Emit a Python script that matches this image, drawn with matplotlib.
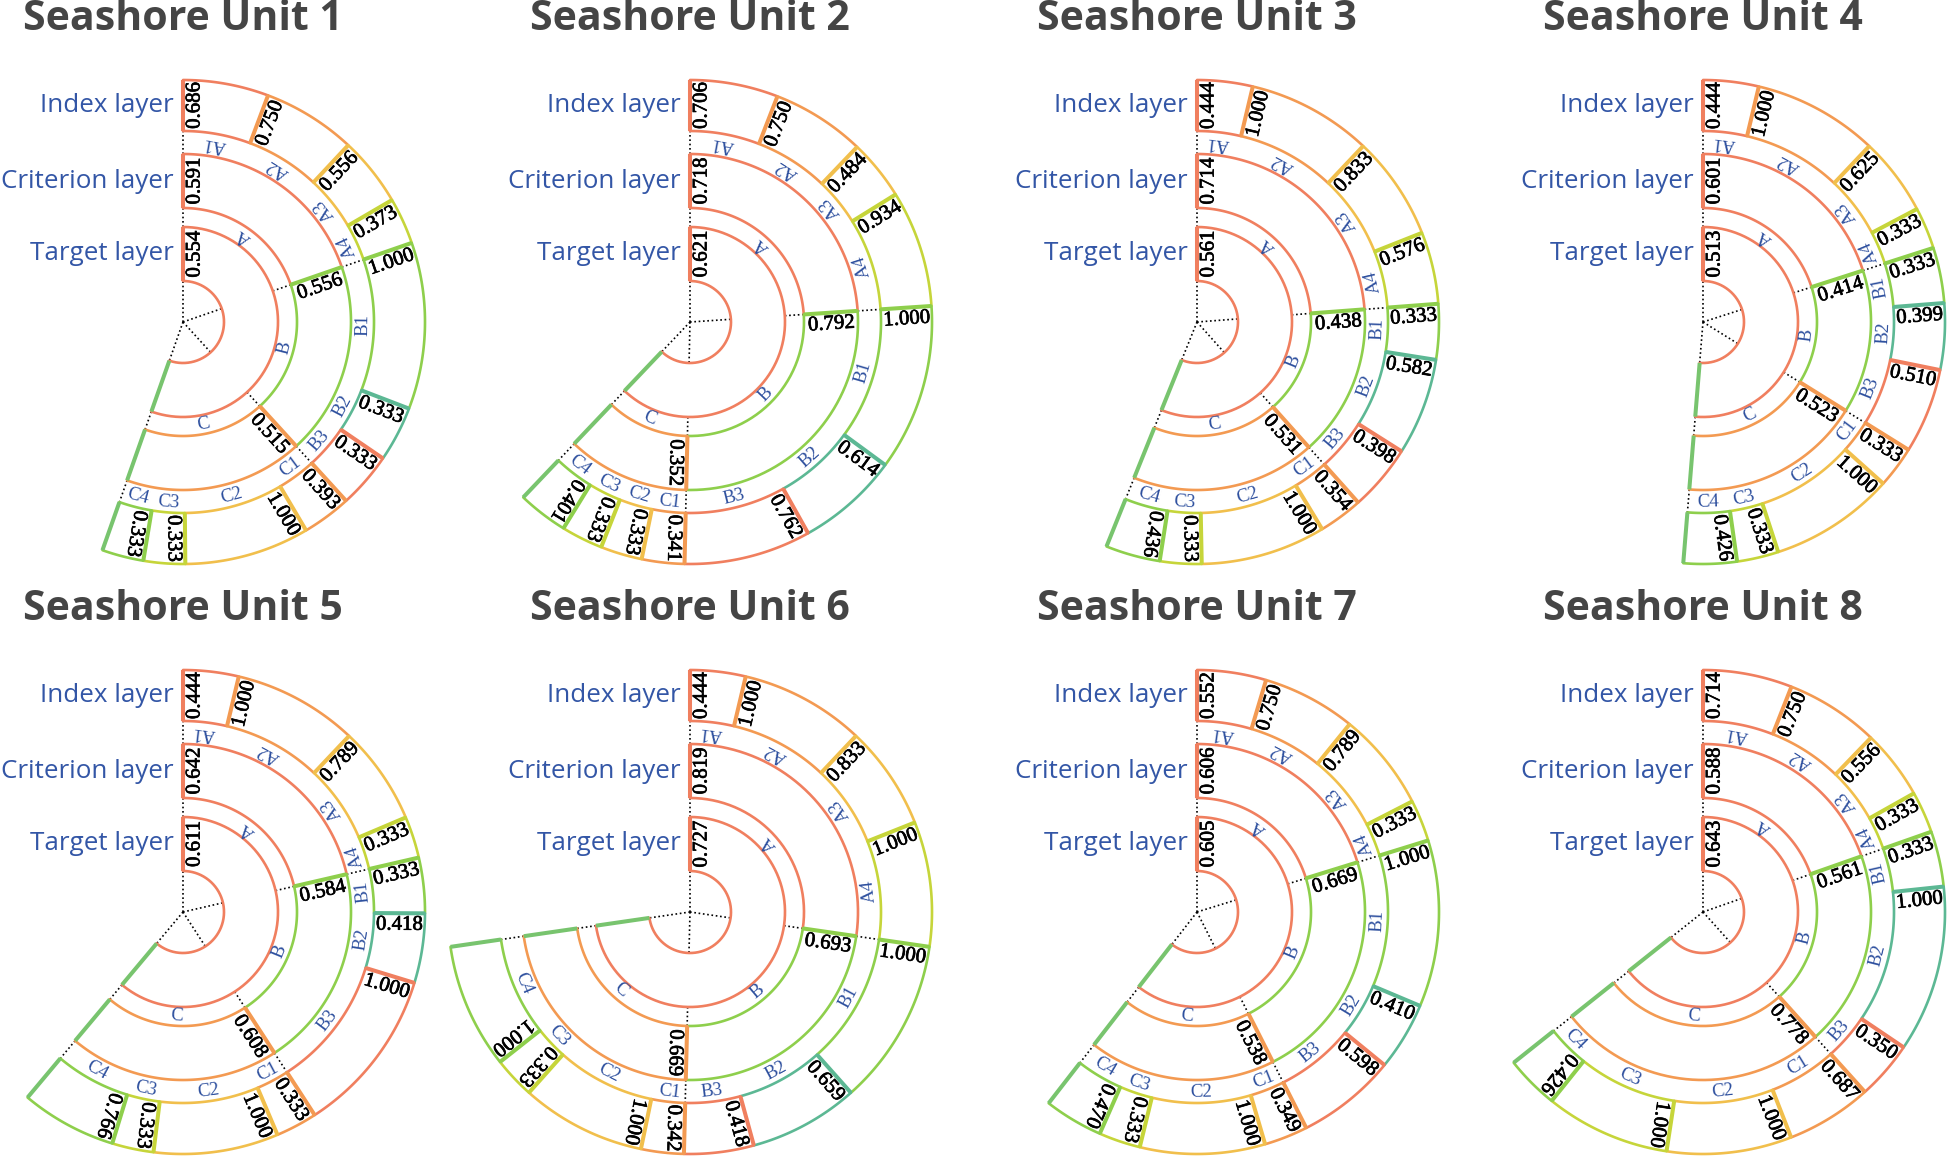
import numpy as np
import matplotlib.pyplot as plt
import matplotlib.patheffects as pe

units = ['Seashore Unit 1', 'Seashore Unit 2', 'Seashore Unit 3', 'Seashore Unit 4',
         'Seashore Unit 5', 'Seashore Unit 6', 'Seashore Unit 7', 'Seashore Unit 8']
layers = ['Target layer', 'Criterion layer', 'Index layer']

# target layer score of each unit (share of the full circle)
target = [0.554, 0.621, 0.561, 0.513, 0.611, 0.727, 0.605, 0.643]

crit_names = ['A', 'B', 'C']
criterion = [
    [0.591, 0.556, 0.515],
    [0.718, 0.792, 0.352],
    [0.714, 0.438, 0.531],
    [0.601, 0.414, 0.523],
    [0.642, 0.584, 0.608],
    [0.819, 0.693, 0.669],
    [0.606, 0.669, 0.538],
    [0.588, 0.561, 0.778],
]

index_names = [['A1', 'A2', 'A3', 'A4'], ['B1', 'B2', 'B3'], ['C1', 'C2', 'C3', 'C4']]
index_A = [
    [0.686, 0.750, 0.556, 0.373],
    [0.706, 0.750, 0.484, 0.934],
    [0.444, 1.000, 0.833, 0.576],
    [0.444, 1.000, 0.625, 0.333],
    [0.444, 1.000, 0.789, 0.333],
    [0.444, 1.000, 0.833, 1.000],
    [0.552, 0.750, 0.789, 0.333],
    [0.714, 0.750, 0.556, 0.333],
]
index_B = [
    [1.000, 0.333, 0.333],
    [1.000, 0.614, 0.762],
    [0.333, 0.582, 0.398],
    [0.333, 0.399, 0.510],
    [0.333, 0.418, 1.000],
    [1.000, 0.659, 0.418],
    [1.000, 0.410, 0.598],
    [0.333, 1.000, 0.350],
]
index_C = [
    [0.393, 1.000, 0.333, 0.333],
    [0.341, 0.333, 0.333, 0.401],
    [0.354, 1.000, 0.333, 0.436],
    [0.333, 1.000, 0.333, 0.426],
    [0.333, 1.000, 0.333, 0.766],
    [0.342, 1.000, 0.333, 1.000],
    [0.349, 1.000, 0.333, 0.470],
    [0.687, 1.000, 1.000, 0.426],
]

palette = ['#f07f5f', '#f39a52', '#f1bf4c', '#c6d53a', '#8ecf4c', '#5cb894']
end_color = '#78c46e'

W, H = 1949, 1161
RMAX = 260
BANDS = [(41, 95), (114, 168), (191, 242)]
col_x = [183, 690, 1197, 1703]
row_y = [322, 912]
LW_ARC = 1.9
LW_EDGE = 2.9
heavy = [pe.withStroke(linewidth=0.5, foreground='black')]


def norm_rot(d):
    return (d + 180) % 360 - 180


def arc(ax, a0, a1, r, color):
    t = np.linspace(a0, a1, max(2, int(abs(a1 - a0) * 80)))
    ax.plot(t, np.full_like(t, r), color=color, lw=LW_ARC, solid_capstyle='round')


def edge(ax, a, band, color):
    ax.plot([a, a], list(band), color=color, lw=LW_EDGE, solid_capstyle='butt')


def segment(ax, a0, a1, band, color):
    arc(ax, a0, a1, band[0], color)
    arc(ax, a0, a1, band[1], color)
    edge(ax, a0, band, color)


def value_label(ax, a, band, v):
    rm = (band[0] + band[1]) / 2
    off = 12
    ax.text(a + np.arctan2(off, rm), np.hypot(rm, off), f'{v:.3f}',
            rotation=norm_rot(90 - np.degrees(a)), rotation_mode='anchor',
            ha='center', va='center', fontsize=15, family='Liberation Serif',
            color='black', path_effects=heavy)


def name_label(ax, a, r, txt):
    ax.text(a, r, txt, rotation=norm_rot(180 - np.degrees(a)), rotation_mode='anchor',
            ha='center', va='center', fontsize=13.5, family='Liberation Serif',
            color='#2d4f9e')


fig = plt.figure(figsize=(W / 100, H / 100), dpi=100)
fig.patch.set_facecolor('white')

gaps = [(0, BANDS[0][0]), (BANDS[0][1], BANDS[1][0]), (BANDS[1][1], BANDS[2][0])]
gap_mid = [(BANDS[0][1] + BANDS[1][0]) / 2, (BANDS[1][1] + BANDS[2][0]) / 2 + 1]

for u in range(8):
    cx = col_x[u % 4]
    cy = row_y[u // 4]
    ax = fig.add_axes([(cx - RMAX) / W, (H - cy - RMAX) / H, 2 * RMAX / W, 2 * RMAX / H],
                      projection='polar')
    ax.set_theta_zero_location('N')
    ax.set_theta_direction(-1)
    ax.set_ylim(0, RMAX)
    ax.axis('off')

    span = target[u] * 2 * np.pi
    crit = np.array(criterion[u])
    crit_edges = np.concatenate([[0], np.cumsum(crit) / crit.sum() * span])
    groups = [index_A[u], index_B[u], index_C[u]]

    # dotted rays in the gaps
    for a in crit_edges:
        for r0, r1 in gaps:
            ax.plot([a, a], [r0, r1], color='black', lw=1.2, ls=(0, (1, 1.6)))

    # target layer
    segment(ax, 0, span, BANDS[0], palette[0])
    value_label(ax, 0, BANDS[0], target[u])

    k = 0
    for g in range(3):
        a0, a1 = crit_edges[g], crit_edges[g + 1]
        segment(ax, a0, a1, BANDS[1], palette[k % 6])
        value_label(ax, a0, BANDS[1], crit[g])
        name_label(ax, (a0 + a1) / 2, gap_mid[0], crit_names[g])

        vals = np.array(groups[g])
        sub = a0 + np.concatenate([[0], np.cumsum(vals) / vals.sum() * (a1 - a0)])
        for j, v in enumerate(vals):
            segment(ax, sub[j], sub[j + 1], BANDS[2], palette[k % 6])
            value_label(ax, sub[j], BANDS[2], v)
            name_label(ax, (sub[j] + sub[j + 1]) / 2, gap_mid[1], index_names[g][j])
            k += 1

    for band in BANDS:
        edge(ax, span, band, end_color)

    for i, lab in enumerate(layers):
        rm = (BANDS[i][0] + BANDS[i][1]) / 2
        ax.annotate(lab, xy=(0, rm), xytext=(-9, 0), textcoords='offset pixels',
                    ha='right', va='center', fontsize=18.7, family='Open Sans',
                    color='#3356a6', annotation_clip=False)

    ax.annotate(units[u], xy=(0.5, 1.0), xycoords='axes fraction', xytext=(0, 43),
                textcoords='offset pixels', ha='center', va='center', fontsize=29.5,
                fontweight='bold', family='Open Sans', color='#454545',
                annotation_clip=False)

fig.savefig('out.png', dpi=100, facecolor='white')
